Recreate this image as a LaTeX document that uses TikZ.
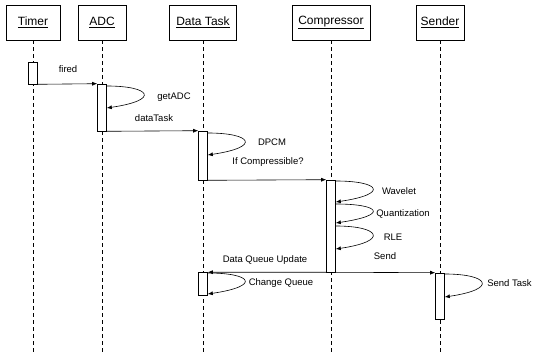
\documentclass[tikz,border=0pt]{standalone}
\usepackage{fontspec}
\setmainfont{Liberation Sans}
\usetikzlibrary{arrows.meta}
\begin{document}
\begin{tikzpicture}[x=1pt,y=-1pt,line width=0.6pt,>={Latex[length=5pt,width=4pt]},
    obj/.style={draw,minimum height=35pt,inner sep=2pt,font=\fontsize{12}{14}\selectfont},
    act/.style={draw,fill=white,minimum width=9pt,inner sep=0pt},
    msg/.style={font=\fontsize{9.5}{11}\selectfont,inner sep=0pt},
    life/.style={line width=0.5pt,dash pattern=on 4pt off 3pt},
    selfloop/.style={to path={.. controls +(44,0) and +(54,-8) .. (\tikztotarget)}}]

    \useasboundingbox (0,0) rectangle (533,352);

    \node [obj,minimum width=54pt] (tm)  at (33,22.5)  {\underline{Timer}};
    \node [obj,minimum width=48pt] (adc) at (102,22.5) {\underline{ADC}};
    \node [obj,minimum width=67pt] (dt)  at (203,22.5) {\underline{Data Task}};
    \node [obj,minimum width=78pt] (cmp) at (331,22.5) {\underline{Compressor}};
    \node [obj,minimum width=48pt] (snd) at (440,22.5) {\underline{Sender}};

    \foreach \n in {tm,adc,dt,cmp,snd}
        \draw[life] (\n) -- (\n |- 0,352);

    \node [act,minimum height=22pt] (tmA)  at (33,73)    {};
    \node [act,minimum height=47pt] (adcA) at (102,107.5) {};
    \node [act,minimum height=49pt] (dtA)  at (203,155.5) {};
    \node [act,minimum height=92pt] (cmpA) at (331,226)   {};
    \node [act,minimum height=23pt] (dtB)  at (203,284)   {};
    \node [act,minimum height=46pt] (sndA) at (440,296)   {};

    \draw[->] (tmA.south east) -- (adcA.north west);
    \draw[->] (adcA.south east) -- (dtA.north west);
    \draw[->] (dtA.south east) -- (cmpA.north west);
    \draw[->] (cmpA.south west) -- (dtB.north east);
    \draw[->] (cmpA.south east) -- (sndA.north west);

    \draw[->] (adcA.east |- 0,86)  to[selfloop] (adcA.east |- 0,108);
    \draw[->] (dtA.east |- 0,133)  to[selfloop] (dtA.east |- 0,155);
    \draw[->] (cmpA.east |- 0,181) to[selfloop] (cmpA.east |- 0,202);
    \draw[->] (cmpA.east |- 0,204) to[selfloop] (cmpA.east |- 0,223);
    \draw[->] (cmpA.east |- 0,226) to[selfloop] (cmpA.east |- 0,249);
    \draw[->] (dtB.east |- 0,273)  to[selfloop] (dtB.east |- 0,294);
    \draw[->] (sndA.east |- 0,274) to[selfloop] (sndA.east |- 0,297);

    \node [msg] (fired) at (68,69)   {fired};
    \node [msg] (getadc) at (174,97) {getADC};
    \node [msg] (datatask) at (154,118) {dataTask};
    \node [msg] (dpcm) at (272,142) {DPCM};
    \node [msg] (ifcomp) at (268,162) {If Compressible?};
    \node [msg] (wave) at (399,191) {Wavelet};
    \node [msg] (quant) at (403,214) {Quantization};
    \node [msg] (rle) at (393,237) {RLE};
    \node [msg] (send) at (385,256) {Send};
    \node [msg] (dqu) at (265,260) {Data Queue Update};
    \node [msg] (chq) at (281,283) {Change Queue};
    \node [msg,anchor=west] (sndt) at (487,283) {Send Task};

\end{tikzpicture}
\end{document}
